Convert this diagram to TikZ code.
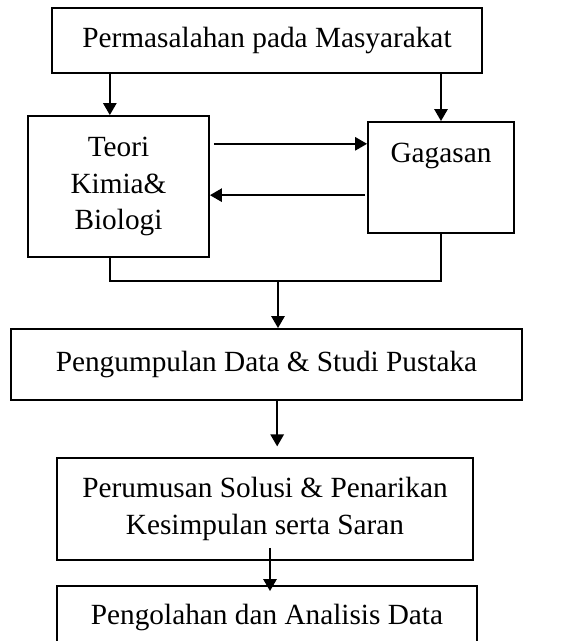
\documentclass[tikz,border=0pt]{standalone}
\usepackage{fontspec}
\setmainfont{Liberation Serif}
\usetikzlibrary{arrows.meta}
\begin{document}
\begin{tikzpicture}[
   box/.style={rectangle, draw, line width=0.8pt, align=center, inner sep=2pt, font=\fontsize{12.5}{15.7}\selectfont},
   txt/.style={font=\fontsize{12.5}{15.7}\selectfont},
   arrow/.style={-{Triangle[length=0.18cm,width=0.2cm]}, line width=0.8pt},
   line/.style={-, line width=0.8pt}
]
\useasboundingbox (0,0) rectangle (8.475,9.615);

% Kotak atas
\node[box, minimum width=6.45cm, minimum height=0.975cm] (masalah) at (4.005,9.0075) {Permasalahan pada Masyarakat};
\node[box, minimum width=2.715cm, minimum height=2.115cm] (teori) at (1.7775,6.8175) {Teori\\Kimia\&\\Biologi};
\node[box, minimum width=2.19cm, minimum height=1.665cm] (gagasan) at (6.615,6.9525) {};
\node[txt, anchor=base] (gagasanteks) at (6.615,7.17) {Gagasan};
\draw[arrow] ([xshift=-0.13cm]teori.north |- masalah.south) -- ([xshift=-0.13cm]teori.north);
\draw[arrow] (gagasan.north |- masalah.south) -- (gagasan.north);
\draw[arrow] ([xshift=0.06cm,yshift=0.64cm]teori.east) -- ([yshift=0.64cm]teori.east -| gagasan.west);
\draw[arrow] ([xshift=-0.03cm,yshift=-0.13cm]teori.east -| gagasan.west) -- ([yshift=-0.13cm]teori.east);

% Gabungan
\coordinate (gabung) at (4.17,5.4);
\draw[line] ([xshift=-0.13cm]teori.south) |- (gabung) -| (gagasan.south);

% Kotak bawah
\node[box, minimum width=7.665cm, minimum height=1.065cm] (kumpul) at (3.9975,4.1475) {Pengumpulan Data \& Studi Pustaka};
\node[box, minimum width=6.24cm, minimum height=1.53cm] (rumus) at (3.975,1.98) {Perumusan Solusi \& Penarikan\\Kesimpulan serta Saran};
\node[box, minimum width=6.3cm, minimum height=0.93cm] (olah) at (4.005,0.36) {Pengolahan dan Analisis Data};
\draw[arrow] (gabung) -- (gabung |- kumpul.north);
\draw[arrow, shorten >=0.16cm] ([xshift=0.16cm]kumpul.south) -- ([xshift=0.16cm]kumpul.south |- rumus.north);
\draw[arrow, shorten >=-0.09cm] ([xshift=0.075cm,yshift=0.195cm]rumus.south) -- ([xshift=0.075cm]rumus.south |- olah.north);

\end{tikzpicture}
\end{document}
